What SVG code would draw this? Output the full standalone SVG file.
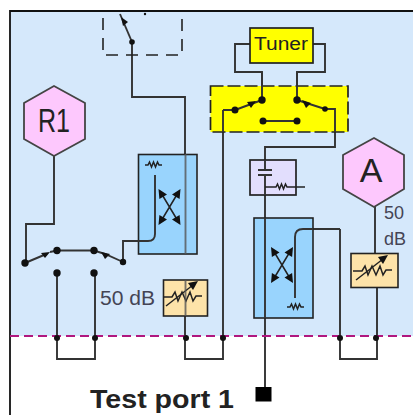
<svg xmlns="http://www.w3.org/2000/svg" width="413" height="415" viewBox="0 0 413 415">
<style>
text{font-family:"Liberation Sans",Arial,sans-serif;fill:#222}
.lb{fill:#445;font-size:20px}
.w{fill:none;stroke:#333;stroke-width:1.900}
.t{fill:none;stroke:#222;stroke-width:1.500}
.g{fill:none;stroke:#555;stroke-width:1.900;stroke-opacity:.8}
.d{fill:#111}
.hex{fill:#fdc8fd;stroke:#444;stroke-width:1.800}
.cpl{fill:#99d4fd;stroke:#222;stroke-width:1.600}
.att{fill:#fde3a9;stroke:#222;stroke-width:1.600}
</style>
<defs>
<g id="load"><path class="t" d="M-10 0h3l1.500-3 2 5 2-5 2 5 2-5 1.500 3h3"/></g>
<g id="x"><path class="t" d="M-9-15L9 15M9-15L-9 15"/><path class="d" d="M-11-18L-2.500-12.500-10.100-8zM11-18L2.500-12.500 10.100-8zM-11 18L-2.500 12.500-10.100 8zM11 18L2.500 12.500 10.100 8z"/></g>
<g id="attn"><path class="t" d="M-22 0h9l3-5 3 9 4-9 4 9 4-9 3 9 3-5h6"/><path class="t" d="M-19 9L8-12"/><path class="d" d="M13-16l-10 2 5 7z"/></g>
</defs>
<rect id="bg" x="10" y="11" width="403" height="325" fill="#d5e8fb"/>
<path d="M10 415V11H413" fill="none" stroke="#111" stroke-width="1.800"/>
<g id="connectors">
<path class="w" d="M54 156V224H26V263"/>
<path class="w" d="M132 42V97H185V254"/>
<path class="w" d="M185 316V359H223V110H235"/>
<path class="w" d="M57 273V359H95V273"/>
<path class="w" d="M250 44H235V72H262V99M313 44H325V72H297V99"/>
<path class="w" d="M325 109H335V147H265V170M265 175V388"/>
<path class="w" d="M340 229V359H377V287"/>
<path class="w" d="M375 207V254"/>
<path class="w" d="M123 262V241H148Q155 241 155 234V175"/>
<path class="w" d="M295 298V237Q295 229 303 229H340"/>
</g>
<g id="switch-top"><path d="M103 18V55H182V18" fill="none" stroke="#222" stroke-width="1.600" stroke-dasharray="12 8"/>
<path class="w" d="M120 14L132 42"/><circle class="d" cx="132" cy="42" r="2.800"/><path class="d" d="M121 17l7 5-5 4z"/><circle class="d" cx="145" cy="14" r="1.200"/></g>
<g id="r1"><polygon class="hex" points="54,86 85,103 85,139 54,156 24,139 24,103"/><text x="38" y="132" font-size="33" textLength="32" lengthAdjust="spacingAndGlyphs">R1</text></g>
<g id="a"><polygon class="hex" points="374,138 404,155 404,189 374,207 343,189 343,155"/><text x="371" y="182" font-size="34" text-anchor="middle">A</text></g>
<g id="switch-left">
<path class="w" d="M25 263L44 255M50 252L57 250.500H94L105 254L123 262"/>
<circle class="d" cx="25" cy="263" r="3.700"/><circle class="d" cx="57" cy="250.500" r="3.700"/><circle class="d" cx="94" cy="250.500" r="3.700"/><circle class="d" cx="123" cy="262" r="3.200"/><circle class="d" cx="57" cy="273" r="3.700"/><circle class="d" cx="94" cy="273" r="3.700"/>
<path class="d" d="M50 252l-9 1 4 5zM101 252l9 2-5 5z"/>
</g>
<g id="coupler-l"><rect class="cpl" x="138.500" y="154.500" width="58.500" height="99.500"/>
<use href="#load" x="155" y="165"/><use href="#x" x="169.500" y="207"/>
<path class="g" d="M185.500 154V254"/>
<path class="w" d="M123 241H148Q155 241 155 234V175"/></g>
<g id="att-l"><rect class="att" x="163.500" y="280" width="44" height="36"/><use href="#attn" x="185" y="297"/><path class="g" d="M185.500 280V316"/></g>
<text class="lb" x="100" y="305" textLength="55" lengthAdjust="spacingAndGlyphs">50 dB</text>
<g id="tuner"><rect x="250" y="28" width="63" height="35" fill="#ff0" stroke="#222" stroke-width="1.700"/><text x="254" y="50" font-size="18" textLength="54" lengthAdjust="spacingAndGlyphs" fill="#333">Tuner</text></g>
<g id="transfer"><rect x="210.500" y="86" width="137.500" height="46" fill="#ff0" stroke="#222" stroke-width="1.700" stroke-dasharray="13 4"/>
<path class="w" d="M262 72V99M297 72V99M263 121H297M235 110L262 100M297 100L325 109M223 110H235M325 109H335V132"/>
<path class="w" d="M223 110V132"/>
<circle class="d" cx="235" cy="110" r="3.500"/><circle class="d" cx="262" cy="100" r="3.700"/><circle class="d" cx="297" cy="100" r="3.700"/><circle class="d" cx="325" cy="109" r="2.800"/><circle class="d" cx="263" cy="121" r="3.500"/><circle class="d" cx="297" cy="121" r="3.500"/>
<path class="d" d="M256 101l-9 1 4 6zM302 100l9 3-5 5z"/></g>
<g id="bias"><rect x="250" y="160" width="46" height="35" fill="#e2defd" stroke="#222" stroke-width="1.700"/>
<path class="w" d="M265 160V170M265 175V195M258 170H272M258 175H272"/>
<path class="t" d="M265 187H276l1.500-3 2 5 2-5 2 5 2-5 1.500 3H305"/></g>
<g id="coupler-r"><rect class="cpl" x="254" y="218" width="59" height="100"/>
<use href="#x" x="282" y="265"/><use href="#load" x="297" y="307"/>
<path class="w" d="M265 218V318"/>
<path class="w" d="M295 298V237Q295 229 303 229H313"/></g>
<g id="att-r"><rect class="att" x="351" y="253.500" width="47" height="34"/><use href="#attn" x="375" y="271"/></g>
<text class="lb" x="384" y="219" style="font-size:18px">50</text>
<text class="lb" x="384" y="245" style="font-size:18px">dB</text>
<path d="M10 336H413" stroke="#b0177f" stroke-width="1.800" stroke-dasharray="9 5"/>
<g id="junctions"><circle class="d" cx="57" cy="338" r="3"/><circle class="d" cx="95" cy="338" r="3"/><circle class="d" cx="186" cy="338" r="3"/><circle class="d" cx="223" cy="338" r="3"/><circle class="d" cx="340" cy="338" r="3"/><circle class="d" cx="376" cy="338" r="3"/></g>
<g id="port"><rect x="255.500" y="387" width="16" height="14.500" fill="#000"/><text x="90" y="408" font-size="25" font-weight="bold" textLength="144" lengthAdjust="spacingAndGlyphs">Test port 1</text></g>
</svg>
